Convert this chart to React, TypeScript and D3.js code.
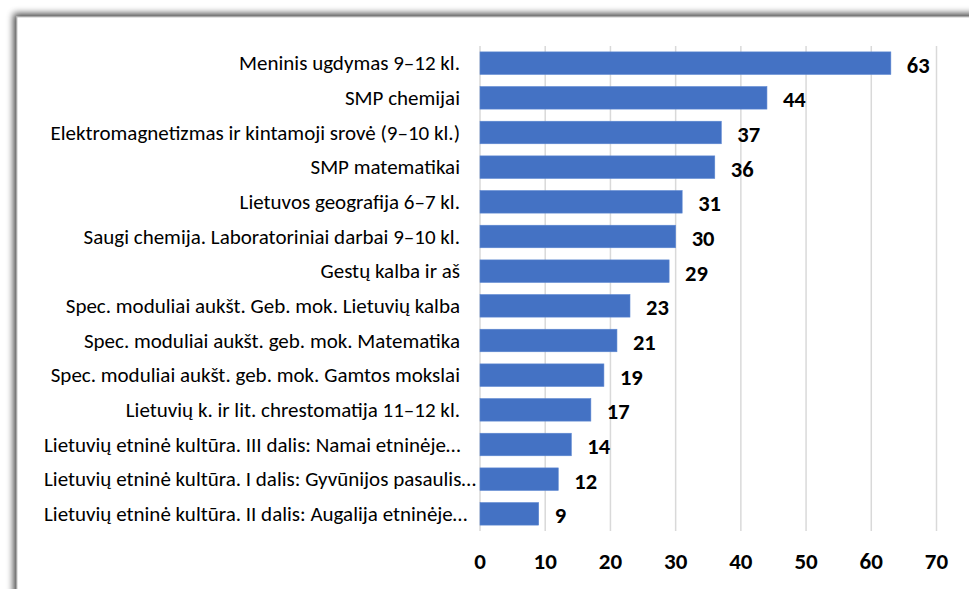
import React, { useRef, useEffect } from "react"
import * as d3 from "d3"

const categories = [
  "Meninis ugdymas 9–12 kl.",
  "SMP chemijai",
  "Elektromagnetizmas ir kintamoji srovė (9–10 kl.)",
  "SMP matematikai",
  "Lietuvos geografija 6–7 kl.",
  "Saugi chemija. Laboratoriniai darbai 9–10 kl.",
  "Gestų kalba ir aš",
  "Spec. moduliai aukšt. Geb. mok. Lietuvių kalba",
  "Spec. moduliai aukšt. geb. mok. Matematika",
  "Spec. moduliai aukšt. geb. mok. Gamtos mokslai",
  "Lietuvių k. ir lit. chrestomatija 11–12 kl.",
  "Lietuvių etninė kultūra. III dalis: Namai etninėje…",
  "Lietuvių etninė kultūra. I dalis: Gyvūnijos pasaulis…",
  "Lietuvių etninė kultūra. II dalis: Augalija etninėje…",
]
const values = [63, 44, 37, 36, 31, 30, 29, 23, 21, 19, 17, 14, 12, 9]
const xTicks = [0, 10, 20, 30, 40, 50, 60, 70]

const W = 969
const H = 589
const FONT = "Carlito, Calibri, Lato, 'Open Sans', sans-serif"

const App = () => {
  const ref = useRef(null)

  useEffect(() => {
    const svg = d3.select(ref.current)
    svg.selectAll("*").remove()

    const x = d3.scaleLinear().domain([0, 70]).range([480, 936.5])
    const y = d3.scaleBand().domain(categories).range([46, 531]).paddingInner(0.35).paddingOuter(0.17)

    const defs = svg.append("defs")
    const f = defs.append("filter").attr("id", "shadow").attr("x", "-5%").attr("y", "-5%").attr("width", "110%").attr("height", "110%")
    f.append("feGaussianBlur").attr("in", "SourceAlpha").attr("stdDeviation", 3.5)
    f.append("feOffset").attr("dx", -3).attr("dy", -3)
    f.append("feComponentTransfer").append("feFuncA").attr("type", "linear").attr("slope", 0.75)
    const m = f.append("feMerge")
    m.append("feMergeNode")
    m.append("feMergeNode").attr("in", "SourceGraphic")

    svg.append("rect").attr("width", W).attr("height", H).attr("fill", "#fff")
    svg.append("rect")
      .attr("x", 17).attr("y", 17).attr("width", W + 20).attr("height", H + 20)
      .attr("fill", "#fff").attr("stroke", "#b8b8b8").attr("stroke-width", 0.8)
      .attr("filter", "url(#shadow)")

    // gridlines
    svg.append("g").selectAll("line").data(xTicks).enter().append("line")
      .attr("x1", d => x(d)).attr("x2", d => x(d))
      .attr("y1", 46).attr("y2", 531)
      .attr("stroke", "#d9d9d9").attr("stroke-width", 1.5)

    // bars
    svg.append("g").selectAll("rect").data(values).enter().append("rect")
      .attr("x", x(0)).attr("y", (d, i) => y(categories[i]))
      .attr("width", d => x(d) - x(0)).attr("height", y.bandwidth())
      .attr("fill", "#4472c4").attr("stroke", "#5b86d1").attr("stroke-width", 0.6)

    // value labels
    svg.append("g").selectAll("text").data(values).enter().append("text")
      .attr("x", d => x(d) + 16).attr("y", (d, i) => y(categories[i]) + y.bandwidth() / 2 + 4)
      .attr("dominant-baseline", "middle")
      .attr("font-family", FONT).attr("font-weight", "bold").attr("font-size", 22.5)
      .attr("fill", "#000").text(d => d)

    // tick labels
    svg.append("g").selectAll("text").data(xTicks).enter().append("text")
      .attr("x", d => x(d)).attr("y", 563)
      .attr("text-anchor", "middle").attr("dominant-baseline", "middle")
      .attr("font-family", FONT).attr("font-weight", "bold").attr("font-size", 23)
      .attr("fill", "#000").text(d => d)

    // category labels: right aligned, long ones pushed out from the left edge
    const labels = svg.append("g").selectAll("text").data(categories).enter().append("text")
      .attr("y", d => y(d) + y.bandwidth() / 2 + 2)
      .attr("dominant-baseline", "middle")
      .attr("font-family", FONT).attr("font-size", 21)
      .attr("fill", "#000").text(d => d)
    labels.each(function () {
      const t = d3.select(this)
      const w = (this as SVGTextElement).getComputedTextLength()
      const right = Math.max(460, 44 + w)
      t.attr("x", right - w)
    })
  }, [])

  return (
    <svg ref={ref} width={W} height={H} style={{ position: "absolute", left: 0, top: 0 }} />
  )
}

export default App
